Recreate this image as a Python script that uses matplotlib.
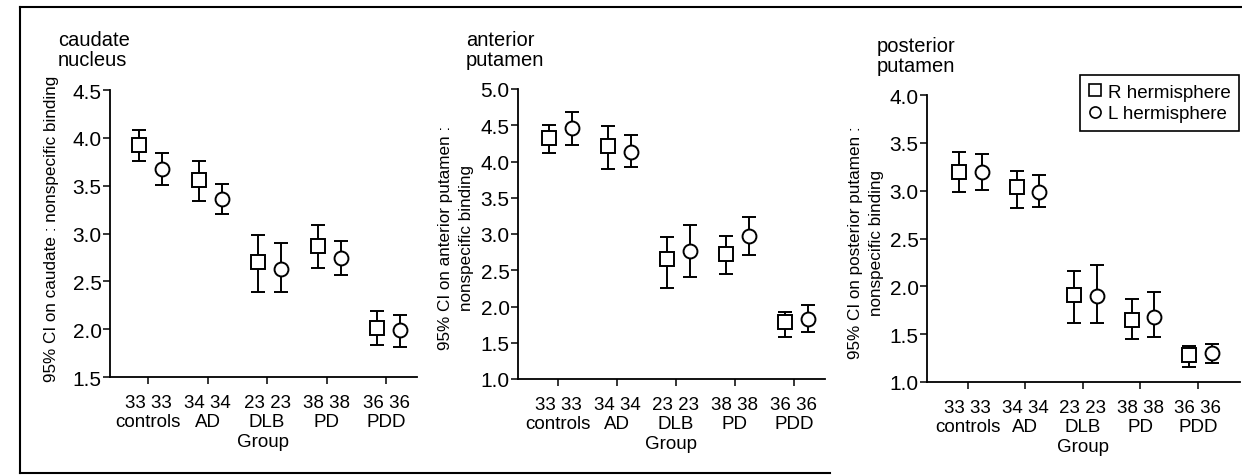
import numpy as np
import matplotlib
matplotlib.use('Agg')
import matplotlib.pyplot as plt
from matplotlib.lines import Line2D

plt.rcParams['font.family'] = ['Liberation Sans', 'DejaVu Sans']

groups = ['controls', 'AD', 'DLB', 'PD', 'PDD']
n_right = [33, 34, 23, 38, 36]
n_left = [33, 34, 23, 38, 36]

# caudate nucleus
caud_R_mean = [3.93, 3.56, 2.70, 2.87, 2.01]
caud_R_lo = [3.76, 3.34, 2.39, 2.64, 1.83]
caud_R_hi = [4.08, 3.76, 2.98, 3.09, 2.19]
caud_L_mean = [3.67, 3.36, 2.63, 2.74, 1.99]
caud_L_lo = [3.51, 3.20, 2.39, 2.57, 1.81]
caud_L_hi = [3.84, 3.52, 2.90, 2.92, 2.15]

# anterior putamen
ant_R_mean = [4.33, 4.21, 2.65, 2.72, 1.78]
ant_R_lo = [4.12, 3.89, 2.26, 2.45, 1.58]
ant_R_hi = [4.50, 4.49, 2.96, 2.97, 1.93]
ant_L_mean = [4.46, 4.13, 2.77, 2.97, 1.83]
ant_L_lo = [4.23, 3.92, 2.41, 2.71, 1.65]
ant_L_hi = [4.68, 4.36, 3.12, 3.24, 2.02]

# posterior putamen
post_R_mean = [3.19, 3.04, 1.91, 1.65, 1.28]
post_R_lo = [2.99, 2.82, 1.62, 1.45, 1.16]
post_R_hi = [3.40, 3.21, 2.16, 1.87, 1.38]
post_L_mean = [3.20, 2.99, 1.90, 1.68, 1.30]
post_L_lo = [3.01, 2.83, 1.62, 1.47, 1.20]
post_L_hi = [3.38, 3.16, 2.22, 1.94, 1.40]

W, H = 1242, 477
fig = plt.figure(figsize=(W / 100, H / 100), dpi=100)


def px_axes(left, right, top, bottom):
    return fig.add_axes([left / W, 1 - bottom / H, (right - left) / W, (bottom - top) / H])


def draw_panel(ax, rm, rlo, rhi, lm, llo, lhi, ylim, yticks, xlim):
    x = np.arange(len(groups))
    rm, rlo, rhi = np.array(rm), np.array(rlo), np.array(rhi)
    lm, llo, lhi = np.array(lm), np.array(llo), np.array(lhi)
    ax.errorbar(x - 0.15, rm, yerr=[rm - rlo, rhi - rm], fmt='s', ms=9.5,
                mfc='white', mec='black', mew=1.4, ecolor='black',
                elinewidth=1.4, capsize=5, capthick=1.4, zorder=3)
    ax.errorbar(x + 0.24, lm, yerr=[lm - llo, lhi - lm], fmt='o', ms=10,
                mfc='white', mec='black', mew=1.4, ecolor='black',
                elinewidth=1.4, capsize=5, capthick=1.4, zorder=3)
    ax.set_ylim(*ylim)
    ax.set_xlim(*xlim)
    ax.set_yticks(yticks)
    ax.set_yticklabels(['%.1f' % v for v in yticks], fontsize=15)
    ax.set_xticks(x)
    ax.set_xticklabels(['%d %d\n%s' % (a, b, g) for a, b, g in zip(n_right, n_left, groups)],
                       fontsize=13.5, linespacing=1.2)
    ax.set_xlabel('Group', fontsize=13.5, labelpad=2)
    for s in ['top', 'right']:
        ax.spines[s].set_visible(False)
    for s in ['left', 'bottom']:
        ax.spines[s].set_linewidth(1.3)
    ax.tick_params(axis='y', direction='out', length=5, width=1.1, pad=1)
    ax.tick_params(axis='x', direction='out', length=5, width=1.1, pad=7)


ax1 = px_axes(110, 417, 91, 378)
draw_panel(ax1, caud_R_mean, caud_R_lo, caud_R_hi, caud_L_mean, caud_L_lo, caud_L_hi,
           (1.5, 4.5), np.arange(1.5, 4.51, 0.5), (-0.64, 4.52))
ax2 = px_axes(518, 825, 90, 380)
draw_panel(ax2, ant_R_mean, ant_R_lo, ant_R_hi, ant_L_mean, ant_L_lo, ant_L_hi,
           (1.0, 5.0), np.arange(1.0, 5.01, 0.5), (-0.68, 4.53))
ax3 = px_axes(927, 1240, 96, 383)
draw_panel(ax3, post_R_mean, post_R_lo, post_R_hi, post_L_mean, post_L_lo, post_L_hi,
           (1.0, 4.0), np.arange(1.0, 4.01, 0.5), (-0.71, 4.73))

# panel titles
title_kw = dict(fontsize=14.5, ha='left', va='top', linespacing=1.05)
fig.text(58 / W, 1 - 31 / H, 'caudate\nnucleus', **title_kw)
fig.text(466 / W, 1 - 31 / H, 'anterior\nputamen', **title_kw)
fig.text(877 / W, 1 - 37 / H, 'posterior\nputamen', **title_kw)

# y labels
fig.text(52 / W, 1 - 229 / H, '95% CI on caudate : nonspecific binding',
         rotation=90, ha='center', va='center', fontsize=12.3)
fig.text(456 / W, 1 - 238 / H, '95% CI on anterior putamen :\nnonspecific binding',
         rotation=90, ha='center', va='center', fontsize=12.3, linespacing=1.5)
fig.text(866 / W, 1 - 243 / H, '95% CI on posterior putamen :\nnonspecific binding',
         rotation=90, ha='center', va='center', fontsize=12.3, linespacing=1.5)

# legend
handles = [Line2D([], [], marker='s', ls='none', mfc='white', mec='black', mew=1.2, ms=9),
           Line2D([], [], marker='o', ls='none', mfc='white', mec='black', mew=1.2, ms=8)]
leg = fig.legend(handles, ['R hermisphere', 'L hermisphere'], loc='upper right',
                 bbox_to_anchor=(1239 / W, 1 - 76 / H), fontsize=13.5,
                 frameon=True, fancybox=False, framealpha=1, edgecolor='black',
                 handlelength=0.7, handletextpad=0.35, borderpad=0.45,
                 labelspacing=0.25, borderaxespad=0)
leg.get_frame().set_linewidth(1.2)

# scanned page frame
fig.add_artist(Line2D([20 / W, 1.0], [1 - 8 / H, 1 - 8 / H], color='black', lw=1.5))
fig.add_artist(Line2D([20 / W, 20 / W], [1 - 8 / H, 1 - 474 / H], color='black', lw=1.5))
fig.add_artist(Line2D([20 / W, 830 / W], [1 - 474 / H, 1 - 474 / H], color='black', lw=1.5))

fig.savefig('out.png', dpi=100)
